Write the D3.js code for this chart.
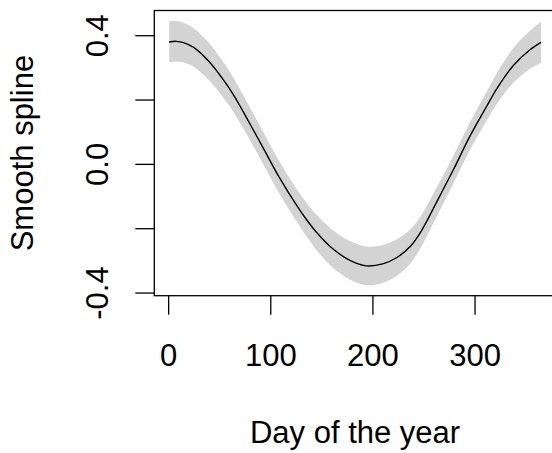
<!DOCTYPE html>
<html>
<head>
<meta charset="utf-8">
<script src="https://cdn.jsdelivr.net/npm/d3@7"></script>
<style>
  html, body { margin: 0; padding: 0; background: #fff; }
  svg { display: block; }
  text { font-family: "Liberation Sans", Arial, sans-serif; fill: #000; }
</style>
</head>
<body>
<svg id="chart" width="552" height="453"></svg>
<script>
// Day of the year at which the fitted smooth was read
const days = [1, 8, 15, 25, 40, 55, 65, 77, 93, 109, 126, 137, 145, 160, 178, 194, 210, 224, 237, 248, 263, 279, 295, 312, 322, 338, 354, 365];
// Fitted smooth spline value
const fit = [0.379, 0.381, 0.377, 0.362, 0.318, 0.257, 0.209, 0.142, 0.050, -0.043, -0.130, -0.180, -0.212, -0.261, -0.300, -0.317, -0.311, -0.291, -0.257, -0.208, -0.118, -0.020, 0.083, 0.180, 0.235, 0.306, 0.354, 0.378];
// Half-width of the confidence band
const halfWidth = [0.064, 0.063, 0.062, 0.060, 0.058, 0.055, 0.053, 0.051, 0.050, 0.050, 0.051, 0.053, 0.055, 0.058, 0.060, 0.060, 0.059, 0.057, 0.053, 0.049, 0.045, 0.043, 0.043, 0.045, 0.048, 0.054, 0.059, 0.064];

const xTicks = [0, 100, 200, 300];
const yTicks = [-0.4, -0.2, 0.0, 0.2, 0.4];
const yTickLabels = ["-0.4", "", "0.0", "", "0.4"];
const xTitle = "Day of the year";
const yTitle = "Smooth spline";

const data = days.map((d, i) => ({ day: d, fit: fit[i], lo: fit[i] - halfWidth[i], hi: fit[i] + halfWidth[i] }));

const svg = d3.select("#chart");
const plot = { left: 154.3, right: 555.8, top: 10.5, bottom: 295.7 };

// R-style 4% axis extension
const pad = (lo, hi) => { const r = hi - lo; return [lo - 0.04 * r, hi + 0.04 * r]; };
const x = d3.scaleLinear().domain(pad(d3.min(days), d3.max(days))).range([plot.left, plot.right]);
const y = d3.scaleLinear().domain(pad(d3.min(data, d => d.lo), d3.max(data, d => d.hi))).range([plot.bottom, plot.top]);

const curve = d3.curveCatmullRom.alpha(0.5);

svg.append("path")
  .datum(data)
  .attr("fill", "#d3d3d3")
  .attr("stroke", "none")
  .attr("d", d3.area().x(d => x(d.day)).y0(d => y(d.lo)).y1(d => y(d.hi)).curve(curve));

svg.append("path")
  .datum(data)
  .attr("fill", "none")
  .attr("stroke", "#000")
  .attr("stroke-width", 1.4)
  .attr("d", d3.line().x(d => x(d.day)).y(d => y(d.fit)).curve(curve));

// Box
svg.append("rect")
  .attr("x", plot.left).attr("y", plot.top)
  .attr("width", plot.right - plot.left).attr("height", plot.bottom - plot.top)
  .attr("fill", "none").attr("stroke", "#000").attr("stroke-width", 1.3);

// X axis
const xAxis = svg.append("g")
  .attr("transform", `translate(0,${plot.bottom})`)
  .call(d3.axisBottom(x).tickValues(xTicks).tickSizeOuter(0).tickSizeInner(19).tickPadding(29).tickFormat(d3.format("d")));
xAxis.select(".domain").remove();
xAxis.selectAll(".tick line").attr("stroke", "#000").attr("stroke-width", 1.3);
xAxis.selectAll(".tick text").attr("font-size", 31).attr("font-family", "Liberation Sans, Arial, sans-serif").attr("fill", "#000");

// Y axis
const yAxis = svg.append("g")
  .attr("transform", `translate(${plot.left},0)`)
  .call(d3.axisLeft(y).tickValues(yTicks).tickSizeOuter(0).tickSizeInner(19).tickFormat((d, i) => yTickLabels[i]));
yAxis.select(".domain").remove();
yAxis.selectAll(".tick line").attr("stroke", "#000").attr("stroke-width", 1.3);
yAxis.selectAll(".tick text")
  .attr("font-size", 31)
  .attr("font-family", "Liberation Sans, Arial, sans-serif")
  .attr("fill", "#000")
  .attr("x", null).attr("dy", null)
  .attr("text-anchor", "middle")
  .attr("transform", "translate(-46,0) rotate(-90)");

// Titles
svg.append("text")
  .attr("x", (plot.left + plot.right) / 2)
  .attr("y", 442.7)
  .attr("text-anchor", "middle")
  .attr("font-size", 31)
  .text(xTitle);

svg.append("text")
  .attr("transform", `translate(33,${(plot.top + plot.bottom) / 2}) rotate(-90)`)
  .attr("text-anchor", "middle")
  .attr("font-size", 31)
  .text(yTitle);
</script>
</body>
</html>
